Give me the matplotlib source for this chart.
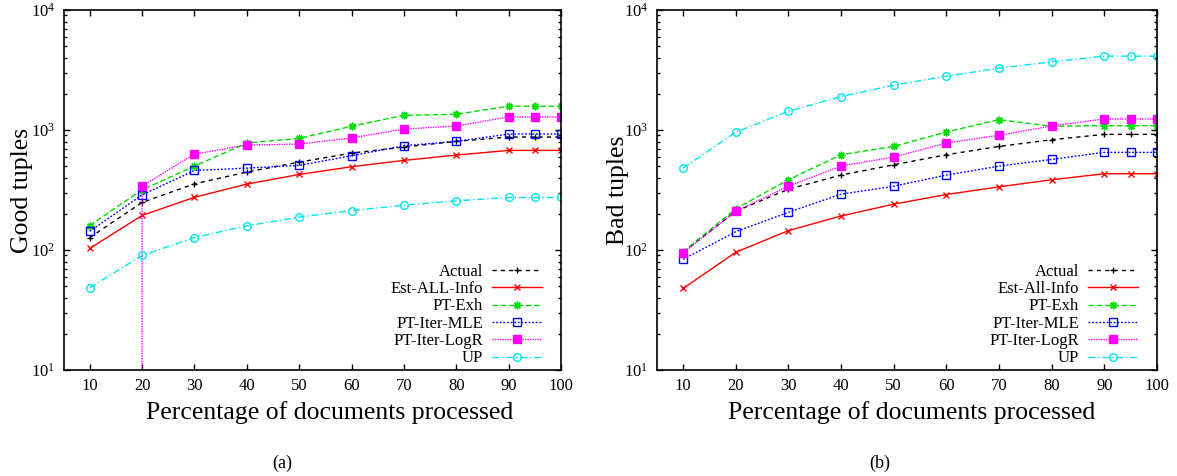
import matplotlib
matplotlib.use("Agg")
import matplotlib.pyplot as plt
from matplotlib.ticker import LogLocator, FixedLocator, NullFormatter

plt.rcParams["font.family"] = ["Liberation Serif", "DejaVu Serif"]
plt.rcParams["mathtext.fontset"] = "custom"
plt.rcParams["mathtext.rm"] = "Liberation Serif"
plt.rcParams["mathtext.it"] = "Liberation Serif:italic"

# Percentage of documents processed
pct = [10, 20, 30, 40, 50, 60, 70, 80, 90, 95, 100]
# PT-Iter-LogR starts at 20% (first estimate is zero)
pct_logr = [20, 20, 30, 40, 50, 60, 70, 80, 90, 95, 100]

# (a) Good tuples
actual_good = [127, 249, 356, 446, 540, 642, 721, 804, 874, 874, 874]
est_good = [103, 194, 275, 354, 426, 494, 558, 618, 676, 676, 676]
exh_good = [160, 317, 500, 779, 852, 1074, 1327, 1352, 1577, 1577, 1577]
mle_good = [143, 288, 460, 481, 507, 610, 740, 804, 926, 926, 926]
logr_good = [0, 340, 630, 749, 764, 858, 1019, 1080, 1284, 1284, 1284]
up_good = [48.4, 90, 127, 159, 188, 213, 236, 257, 274, 274, 274]

# (b) Bad tuples
actual_bad = [96, 210, 321, 421, 513, 622, 730, 830, 920, 920, 920]
est_bad = [47.8, 95.7, 145, 192, 241, 290, 336, 385, 432, 432, 432]
exh_bad = [97, 220, 385, 622, 730, 962, 1220, 1073, 1087, 1087, 1087]
mle_bad = [83.6, 142, 206, 292, 340, 421, 500, 569, 651, 651, 651]
logr_bad = [94.4, 210, 340, 500, 595, 779, 903, 1080, 1236, 1236, 1236]
up_bad = [481, 957, 1432, 1900, 2362, 2808, 3276, 3701, 4127, 4127, 4127]

x_ticks = [10, 20, 30, 40, 50, 60, 70, 80, 90, 100]

W, H = 1177, 476
fig = plt.figure(figsize=(W / 100, H / 100), dpi=100)


def px_axes(left, top, width, height):
    return fig.add_axes([left / W, (H - top - height) / H, width / W, height / H])


STYLE = dict(lw=1.0, ms=5.5, mew=1.0)


def draw_panel(ax, series, ylabel, caption, xlabel_x, ylabel_x, cap_x):
    for label, xs, ys, color, marker, dashes, extra in series:
        kw = dict(STYLE)
        kw.update(extra)
        line, = ax.plot(xs, ys, color=color, marker=marker, label=label, **kw)
        if dashes is not None:
            line.set_dashes(dashes)
    ax.set_yscale("log", nonpositive="clip")
    ax.set_ylim(10, 1e4)
    ax.set_xlim(5, 100)
    ax.xaxis.set_major_locator(FixedLocator(x_ticks))
    ax.yaxis.set_major_locator(LogLocator(base=10, numticks=10))
    ax.yaxis.set_minor_locator(LogLocator(base=10, subs=range(2, 10), numticks=10))
    ax.yaxis.set_minor_formatter(NullFormatter())
    ax.tick_params(which="both", direction="in", top=True, right=True,
                   labelsize=12, colors="black", width=1.0)
    ax.tick_params(which="major", length=4.5, pad=6)
    ax.tick_params(which="minor", length=2.3)
    for sp in ax.spines.values():
        sp.set_linewidth(1.2)
    ax.set_xlabel("Percentage of documents processed", fontsize=18.5)
    ax.xaxis.set_label_coords(xlabel_x, -0.085)
    ax.set_ylabel(ylabel, fontsize=18.5)
    ax.yaxis.set_label_coords(ylabel_x, 0.5)
    ax.legend(loc="lower right", bbox_to_anchor=(0.962, 0.01),
              frameon=False, markerfirst=False, fontsize=12,
              handlelength=3.0, handletextpad=0.55, labelspacing=0.08,
              borderpad=0, borderaxespad=0)
    fig.text(cap_x, (H - 463) / H, caption, fontsize=13, ha="center", va="center")


ax1 = px_axes(63.5, 10, 497.5, 360)
ax2 = px_axes(656.7, 10, 500.3, 360)

series_a = [
    ("Actual", pct, actual_good, "black", "+", (3, 3), {"ms": 5}),
    ("Est-ALL-Info", pct, est_good, "#ff0000", "x", None, {"ms": 4.5}),
    ("PT-Exh", pct, exh_good, "#00dd00", (8, 2, 0), (4, 2), {}),
    ("PT-Iter-MLE", pct, mle_good, "#0000ff", "s", (1.3, 1.3), {"mfc": "none"}),
    ("PT-Iter-LogR", pct_logr, logr_good, "#ff00ff", "s", (1, 0.8), {}),
    ("UP", pct, up_good, "#00e5ee", "o", (5, 2, 1, 2), {"mfc": "none"}),
]
series_b = [
    ("Actual", pct, actual_bad, "black", "+", (3, 3), {"ms": 5}),
    ("Est-All-Info", pct, est_bad, "#ff0000", "x", None, {"ms": 4.5}),
    ("PT-Exh", pct, exh_bad, "#00dd00", (8, 2, 0), (4, 2), {}),
    ("PT-Iter-MLE", pct, mle_bad, "#0000ff", "s", (1.3, 1.3), {"mfc": "none"}),
    ("PT-Iter-LogR", pct, logr_bad, "#ff00ff", "s", (1, 0.8), {}),
    ("UP", pct, up_bad, "#00e5ee", "o", (5, 2, 1, 2), {"mfc": "none"}),
]

draw_panel(ax1, series_a, "Good tuples", "(a)", 0.535, -0.062, 282 / W)
draw_panel(ax2, series_b, "Bad tuples", "(b)", 0.51, -0.056, 880 / W)

fig.savefig("out.png", dpi=100)
